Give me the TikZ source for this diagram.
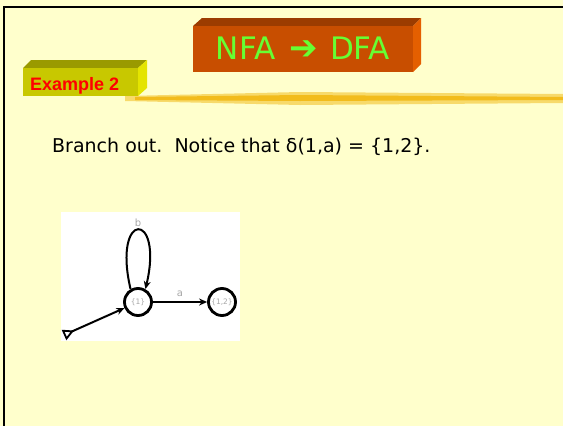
\documentclass[tikz,border=0pt]{standalone}
\usepackage{fontspec}
\setmainfont{DejaVu Sans}
\newfontfamily\BadgeFont{Liberation Sans}
\usetikzlibrary{arrows.meta}
\definecolor{Slide}{HTML}{FFFFCC}
\definecolor{TitleFront}{HTML}{C84E00}
\definecolor{TitleTop}{HTML}{9C3C00}
\definecolor{TitleSide}{HTML}{E45F00}
\definecolor{TitleText}{HTML}{66FF33}
\definecolor{BadgeFront}{HTML}{C8C800}
\definecolor{BadgeTop}{HTML}{9A9A00}
\definecolor{BadgeSide}{HTML}{E4E400}
\definecolor{BadgeText}{HTML}{FF0000}
\definecolor{Streak}{HTML}{F2BC1C}
\definecolor{Faint}{HTML}{A8A8A8}

\tikzset{
  dfastate/.style={
    circle,
    draw,
    line width=2.8pt,
    minimum size=27pt,
    inner sep=0pt,
    font=\fontsize{7.5}{8}\selectfont,
    text=Faint
  },
  edgelabel/.style={
    font=\fontsize{10}{11}\selectfont,
    text=Faint,
    inner sep=1pt
  },
  wire/.style={
    line width=2pt,
    -{Stealth[length=8pt,width=7pt]}
  }
}

\begin{document}
\begin{tikzpicture}[x=1pt,y=-1pt]

  \useasboundingbox (0,0) rectangle (563,426);
  \fill[Slide] (0,0) rectangle (563,426);
  \draw[line width=2.2pt] (4,426) -- (4,7) -- (563,7);

  \fill[TitleTop]
    (193,26) -- (202,18) -- (421,18) -- (413,26) -- cycle;
  \fill[TitleSide]
    (413,26) -- (421,18) -- (421,64) -- (413,72) -- cycle;
  \fill[TitleFront]
    (193,26) rectangle (413,72);

  \node[
    anchor=base,
    inner sep=0pt,
    font=\fontsize{31}{33}\selectfont,
    text=TitleText
  ] (title) at (303,59)
    {NFA\hspace{0.45em}{\bfseries\fontsize{34}{34}\selectfont ➔}\hspace{0.4em}DFA};

  \fill[Streak, opacity=0.55]
    (125,96) -- (300,92) -- (563,94) -- (563,103) -- (300,105) -- (125,101) -- cycle;
  \fill[Streak]
    (135,97) -- (300,95) -- (563,97) -- (563,100) -- (300,101) -- (135,100) -- cycle;

  \fill[BadgeTop]
    (23,68) -- (31,60) -- (147,60) -- (138,68) -- cycle;
  \fill[BadgeSide]
    (138,68) -- (147,60) -- (147,88) -- (138,96) -- cycle;
  \fill[BadgeFront]
    (23,68) rectangle (138,96);

  \node[
    anchor=base west,
    inner sep=0pt,
    font=\BadgeFont\bfseries\fontsize{18}{20}\selectfont,
    text=BadgeText
  ] (badge) at (30,90)
    {Example 2};

  \node[
    anchor=base west,
    inner sep=0pt,
    font=\fontsize{19}{22}\selectfont
  ] (remark) at (52,152)
    {Branch out.\ \ Notice that δ(1,a) = \{1,2\}.};

  \fill[white] (61,212) rectangle (240,341);

  \node[dfastate] (one) at (138,302) {\{1\}};
  \node[dfastate] (onetwo) at (222,302) {\{1,2\}};
  \coordinate (entry) at (64,335);

  \draw[wire] (one.120) .. controls (112,210) and (164,210) .. (one.60)
    node[edgelabel, pos=0.5, above=1pt] (blabel) {b};
  \draw[wire] (one) -- (onetwo)
    node[edgelabel, midway, above=3pt] (alabel) {a};
  \draw[wire, {Triangle[open,reversed,length=11pt,width=11pt,line width=1.8pt]}-{Stealth[length=8pt,width=7pt]}]
    (entry) -- (one);

\end{tikzpicture}
\end{document}
